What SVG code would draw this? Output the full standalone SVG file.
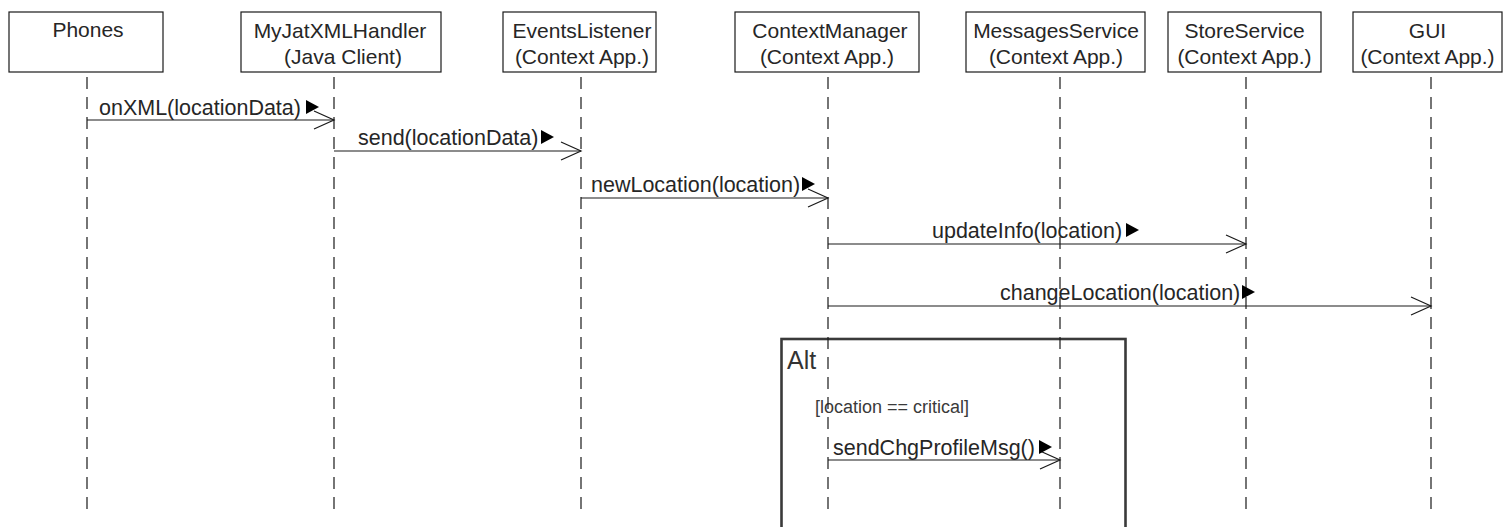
<svg xmlns="http://www.w3.org/2000/svg" width="1505" height="527" viewBox="0 0 1505 527">
  <style>
    .box { fill: #ffffff; stroke: #1a1a1a; stroke-width: 1.2; }
    .lbl { font-family: "Liberation Sans", Arial, sans-serif; font-size: 21px; fill: #262626; text-anchor: middle; }
    .life { stroke: #1a1a1a; stroke-width: 1.2; stroke-dasharray: 12 8; fill: none; }
    .msg { stroke: #1a1a1a; stroke-width: 1.2; fill: none; }
    .head { stroke: #1a1a1a; stroke-width: 1.2; fill: none; }
    .mtxt { font-family: "Liberation Sans", Arial, sans-serif; font-size: 21.5px; fill: #262626; }
    .dir { fill: #000000; }
    .frame { fill: none; stroke: #3a3a3a; stroke-width: 2.6; }
    .ftitle { font-family: "Liberation Sans", Arial, sans-serif; font-size: 25px; fill: #333333; }
    .guard { font-family: "Liberation Sans", Arial, sans-serif; font-size: 18px; fill: #3a3a3a; }
  </style>
  <rect width="1505" height="527" fill="#ffffff"/>

  <!-- combined fragment frame -->
  <g id="alt-fragment">
    <rect class="frame" x="781.5" y="339" width="344" height="210"/>
    <text class="ftitle" x="787" y="369">Alt</text>
    <text class="guard" x="815" y="413">[location == critical]</text>
  </g>

  <!-- participants -->
  <g id="phones">
    <rect class="box" x="9" y="12" width="154" height="60"/>
    <text class="lbl" x="88" y="37">Phones</text>
    <line class="life" x1="87" y1="77" x2="87" y2="509"/>
  </g>
  <g id="myjatxmlhandler">
    <rect class="box" x="241" y="12" width="200" height="60"/>
    <text class="lbl" x="340" y="37.5">MyJatXMLHandler</text>
    <text class="lbl" x="343" y="64">(Java Client)</text>
    <line class="life" x1="334" y1="77" x2="334" y2="509"/>
  </g>
  <g id="eventslistener">
    <rect class="box" x="503" y="12" width="153" height="60"/>
    <text class="lbl" x="582" y="37.5">EventsListener</text>
    <text class="lbl" x="582" y="64">(Context App.)</text>
    <line class="life" x1="581" y1="77" x2="581" y2="509"/>
  </g>
  <g id="contextmanager">
    <rect class="box" x="735" y="12" width="184" height="60"/>
    <text class="lbl" x="830" y="37.5">ContextManager</text>
    <text class="lbl" x="827" y="64">(Context App.)</text>
    <line class="life" x1="828" y1="77" x2="828" y2="509"/>
  </g>
  <g id="messagesservice">
    <rect class="box" x="966" y="12" width="179" height="60"/>
    <text class="lbl" x="1056" y="37.5">MessagesService</text>
    <text class="lbl" x="1056" y="64">(Context App.)</text>
    <line class="life" x1="1060" y1="77" x2="1060" y2="509"/>
  </g>
  <g id="storeservice">
    <rect class="box" x="1168" y="12" width="153" height="60"/>
    <text class="lbl" x="1244.5" y="37.5">StoreService</text>
    <text class="lbl" x="1244.5" y="64">(Context App.)</text>
    <line class="life" x1="1246" y1="77" x2="1246" y2="509"/>
  </g>
  <g id="gui">
    <rect class="box" x="1353" y="12" width="149" height="60"/>
    <text class="lbl" x="1427.5" y="37.5">GUI</text>
    <text class="lbl" x="1427.5" y="64">(Context App.)</text>
    <line class="life" x1="1431" y1="77" x2="1431" y2="509"/>
  </g>

  <!-- messages -->
  <g id="connectors">
    <line class="msg" x1="87" y1="120" x2="334" y2="120"/>
    <polyline class="head" points="314,111 334,120 314,129"/>
    <text class="mtxt" x="99" y="115">onXML(locationData)</text>
    <polygon class="dir" points="306,100 319,107 306,114"/>

    <line class="msg" x1="334" y1="151" x2="581" y2="151"/>
    <polyline class="head" points="561,142 581,151 561,160"/>
    <text class="mtxt" x="358" y="145">send(locationData)</text>
    <polygon class="dir" points="541,130 554,137 541,144"/>

    <line class="msg" x1="581" y1="198" x2="828" y2="198"/>
    <polyline class="head" points="808,189 828,198 808,207"/>
    <text class="mtxt" x="591" y="192">newLocation(location)</text>
    <polygon class="dir" points="802,177 815,184 802,191"/>

    <line class="msg" x1="828" y1="244" x2="1246" y2="244"/>
    <polyline class="head" points="1226,235 1246,244 1226,253"/>
    <text class="mtxt" x="932" y="238">updateInfo(location)</text>
    <polygon class="dir" points="1126,223 1139,230 1126,237"/>

    <line class="msg" x1="828" y1="306" x2="1431" y2="306"/>
    <polyline class="head" points="1411,297 1431,306 1411,315"/>
    <text class="mtxt" x="1000" y="300">changeLocation(location)</text>
    <polygon class="dir" points="1242,285 1255,292 1242,299"/>

    <line class="msg" x1="828" y1="460" x2="1060" y2="460"/>
    <polyline class="head" points="1040,451 1060,460 1040,469"/>
    <text class="mtxt" x="833" y="455">sendChgProfileMsg()</text>
    <polygon class="dir" points="1039,440 1052,447 1039,454"/>
  </g>
</svg>
